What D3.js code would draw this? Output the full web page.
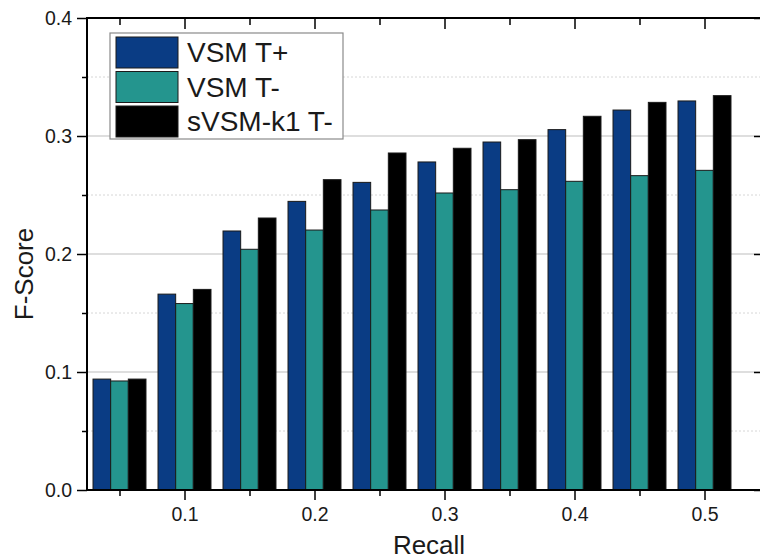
<!DOCTYPE html>
<html>
<head>
<meta charset="utf-8">
<script src="https://cdn.jsdelivr.net/npm/d3@7/dist/d3.min.js"></script>
<style>
  html, body { margin: 0; padding: 0; background: #fff; }
  svg { display: block; font-family: Arial, "Liberation Sans", sans-serif; }
</style>
</head>
<body>
<div id="chart"></div>
<script>
// data
var recall      = [0.05, 0.10, 0.15, 0.20, 0.25, 0.30, 0.35, 0.40, 0.45, 0.50];
var vsmTPlus    = [0.094, 0.166, 0.2195, 0.2446, 0.2607, 0.278, 0.2949, 0.3054, 0.322, 0.3297];
var vsmTMinus   = [0.0924, 0.158, 0.204, 0.2203, 0.2373, 0.2517, 0.2545, 0.2616, 0.2664, 0.2709];
var svsmTMinus  = [0.094, 0.170, 0.2305, 0.263, 0.2856, 0.2896, 0.2969, 0.3167, 0.3285, 0.3342];
var seriesNames = ['VSM T+', 'VSM T-', 'sVSM-k1 T-'];
var seriesColors = ['#0a3c84', '#24958e', '#000000'];
var xTicks      = [0.1, 0.2, 0.3, 0.4, 0.5];
var xMinorTicks = [0.05, 0.15, 0.25, 0.35, 0.45];
var yTicks      = [0.0, 0.1, 0.2, 0.3, 0.4];
var yMinorTicks = [0.05, 0.15, 0.25, 0.35];

(function(){
    var WIDTH  = 760,
        HEIGHT = 560,
        LEFT   = 87,    // left axis x
        RIGHT  = 763,   // right frame x (mostly off the picture)
        TOP    = 18,
        BOTTOM = 490,
        GROUP_FILL = 0.815; // share of the 0.05 step taken by one group of bars

    var series = [vsmTPlus, vsmTMinus, svsmTMinus];

    var svg = d3.select('#chart').append('svg')
        .attr('width', WIDTH)
        .attr('height', HEIGHT);

    var x = d3.scaleLinear().domain([0.025, 0.545]).range([LEFT, RIGHT]);
    var y = d3.scaleLinear().domain([0, 0.4]).range([BOTTOM, TOP]);

    // grid lines
    svg.append('g').selectAll('line')
        .data(yMinorTicks).enter().append('line')
        .attr('x1', LEFT).attr('x2', RIGHT)
        .attr('y1', function(d){ return y(d); })
        .attr('y2', function(d){ return y(d); })
        .attr('stroke', '#d6d6d6')
        .attr('stroke-dasharray', '2,2');

    svg.append('g').selectAll('line')
        .data(yTicks.filter(function(d){ return d > 0 && d < 0.4; })).enter().append('line')
        .attr('x1', LEFT).attr('x2', RIGHT)
        .attr('y1', function(d){ return y(d); })
        .attr('y2', function(d){ return y(d); })
        .attr('stroke', '#bdbdbd');

    // bars
    var step = x(0.1) - x(0.05);
    var inner = d3.scaleBand()
        .domain(d3.range(seriesNames.length))
        .range([-step * GROUP_FILL / 2, step * GROUP_FILL / 2]);

    var groups = svg.append('g').selectAll('g')
        .data(recall).enter().append('g')
        .attr('transform', function(d){ return 'translate(' + x(d) + ',0)'; });

    groups.selectAll('rect')
        .data(function(d, i){
            return series.map(function(s, k){ return { k: k, v: s[i] }; });
        })
        .enter().append('rect')
        .attr('x', function(d){ return inner(d.k); })
        .attr('width', inner.bandwidth())
        .attr('y', function(d){ return y(d.v); })
        .attr('height', function(d){ return BOTTOM - y(d.v); })
        .attr('fill', function(d){ return seriesColors[d.k]; })
        .attr('stroke', '#1a1a1a')
        .attr('stroke-width', 1);

    // axes
    function styleAxis(g){
        g.select('.domain').remove();
        g.selectAll('line').attr('stroke', '#000').attr('stroke-width', 1.5);
        g.selectAll('text')
            .attr('fill', '#1a1a1a')
            .style('font-size', '19.5px');
    }

    svg.append('g')
        .attr('transform', 'translate(0,' + BOTTOM + ')')
        .call(d3.axisBottom(x).tickValues(xTicks).tickSize(10).tickPadding(7)
            .tickFormat(d3.format('.1f')))
        .call(styleAxis);
    svg.append('g')
        .attr('transform', 'translate(0,' + BOTTOM + ')')
        .call(d3.axisBottom(x).tickValues(xMinorTicks).tickSize(6).tickFormat(''))
        .call(styleAxis);

    svg.append('g')
        .attr('transform', 'translate(0,' + TOP + ')')
        .call(d3.axisTop(x).tickValues(xTicks).tickSize(-11).tickFormat(''))
        .call(styleAxis);
    svg.append('g')
        .attr('transform', 'translate(0,' + TOP + ')')
        .call(d3.axisTop(x).tickValues(xMinorTicks).tickSize(-7).tickFormat(''))
        .call(styleAxis);

    svg.append('g')
        .attr('transform', 'translate(' + LEFT + ',0)')
        .call(d3.axisLeft(y).tickValues(yTicks).tickSize(10).tickPadding(5)
            .tickFormat(d3.format('.1f')))
        .call(styleAxis);
    svg.append('g')
        .attr('transform', 'translate(' + LEFT + ',0)')
        .call(d3.axisLeft(y).tickValues(yMinorTicks).tickSize(5).tickFormat(''))
        .call(styleAxis);

    svg.append('g')
        .attr('transform', 'translate(' + RIGHT + ',0)')
        .call(d3.axisRight(y).tickValues(yTicks).tickSize(-9).tickFormat(''))
        .call(styleAxis);

    // frame
    svg.append('rect')
        .attr('x', LEFT).attr('y', TOP)
        .attr('width', RIGHT - LEFT).attr('height', BOTTOM - TOP)
        .attr('fill', 'none')
        .attr('stroke', '#000')
        .attr('stroke-width', 2);

    // axis titles
    svg.append('text')
        .attr('x', 429).attr('y', 554)
        .attr('text-anchor', 'middle')
        .attr('fill', '#1a1a1a')
        .style('font-size', '26px')
        .text('Recall');

    svg.append('text')
        .attr('transform', 'translate(33,' + ((TOP + BOTTOM) / 2 + 20) + ') rotate(-90)')
        .attr('text-anchor', 'middle')
        .attr('fill', '#1a1a1a')
        .style('font-size', '26px')
        .text('F-Score');

    // legend
    var legend = svg.append('g').attr('transform', 'translate(110,33)');
    legend.append('rect')
        .attr('width', 233).attr('height', 106)
        .attr('fill', '#fff')
        .attr('stroke', '#8a8a8a')
        .attr('stroke-width', 1.2);

    var items = legend.selectAll('g.item')
        .data(seriesNames).enter().append('g')
        .attr('class', 'item')
        .attr('transform', function(d, i){ return 'translate(6,' + (4 + i * 34.5) + ')'; });

    items.append('rect')
        .attr('width', 62).attr('height', 31)
        .attr('fill', function(d, i){ return seriesColors[i]; })
        .attr('stroke', '#1a1a1a')
        .attr('stroke-width', 1);

    items.append('text')
        .attr('x', 71).attr('y', 25)
        .attr('fill', '#1a1a1a')
        .style('font-size', '28px')
        .text(function(d){ return d; });
})();
</script>
</body>
</html>
